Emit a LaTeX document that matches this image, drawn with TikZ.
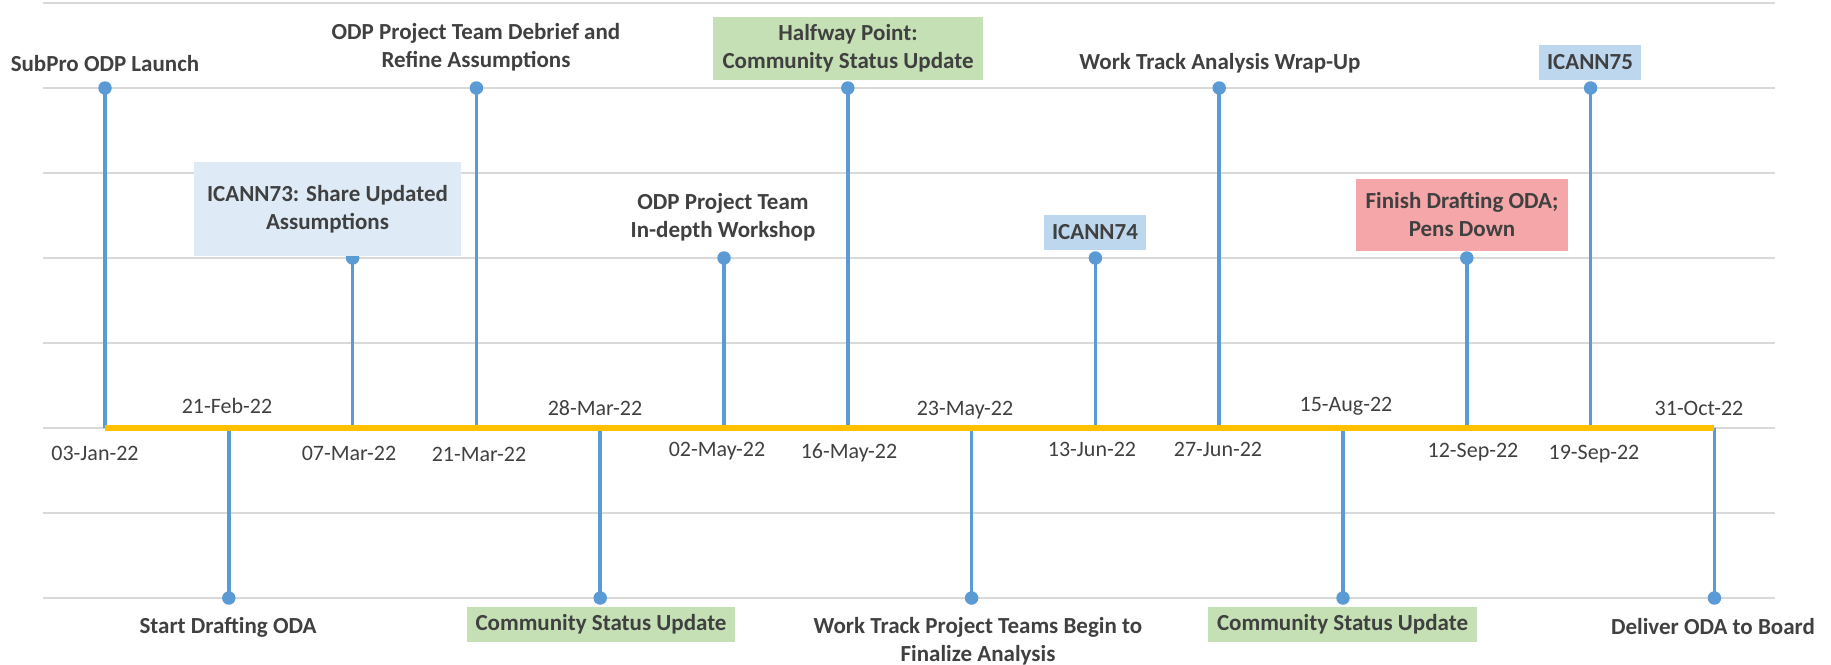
\documentclass[tikz,border=0pt]{standalone}
\usepackage{fontspec}
\setmainfont{Carlito}
\definecolor{gridc}{HTML}{D9D9D9}
\definecolor{stemc}{HTML}{5B9BD5}
\definecolor{axisc}{HTML}{FFC000}
\definecolor{txtc}{HTML}{404040}
\definecolor{lightblue}{HTML}{DEEBF7}
\definecolor{midblue}{HTML}{BDD7EE}
\definecolor{lightgreen}{HTML}{C5E0B4}
\definecolor{pinkc}{HTML}{F4A6A8}
\begin{document}
\begin{tikzpicture}[x=1pt,y=-1pt,
  gridline/.style={draw=gridc,line width=2pt},
  stem/.style={draw=stemc,line width=3.5pt},
  dot/.style={circle,fill=stemc,inner sep=0pt,minimum size=13.5pt},
  lbl/.style={text=txtc,font=\fontsize{23}{28}\selectfont\bfseries,align=center,inner sep=0pt},
  datelbl/.style={text=txtc,font=\fontsize{22}{26}\selectfont,inner sep=0pt},
  evbox/.style={lbl,minimum height=35pt}
]
\useasboundingbox (0,0) rectangle (1831,664);
% grid
\foreach \gy in {3,88,173,258,343,428,513,598}
  \draw[gridline] (43,\gy) -- (1775,\gy);
% axis points
\foreach \i in {0,...,13}
  \coordinate (t\i) at ({105+123.8*\i},428);
% dots
\node[dot] (d0) at (t0 |- 0,88) {};
\node[dot] (d1) at (t1 |- 0,598) {};
\node[dot] (d2) at (t2 |- 0,258) {};
\node[dot] (d3) at (t3 |- 0,88) {};
\node[dot] (d4) at (t4 |- 0,598) {};
\node[dot] (d5) at (t5 |- 0,258) {};
\node[dot] (d6) at (t6 |- 0,88) {};
\node[dot] (d7) at (t7 |- 0,598) {};
\node[dot] (d8) at (t8 |- 0,258) {};
\node[dot] (d9) at (t9 |- 0,88) {};
\node[dot] (d10) at (t10 |- 0,598) {};
\node[dot] (d11) at (t11 |- 0,258) {};
\node[dot] (d12) at (t12 |- 0,88) {};
\node[dot] (d13) at (t13 |- 0,598) {};
% stems
\foreach \i in {0,...,13}
  \draw[stem] (t\i) -- (d\i.center);
% axis
\draw[draw=axisc,line width=6pt] (t0) -- (t13);
% dates
\node[datelbl] (x0) at (95,453) {03-Jan-22};
\node[datelbl] (x1) at (227,406) {21-Feb-22};
\node[datelbl] (x2) at (349,453) {07-Mar-22};
\node[datelbl] (x3) at (479,454) {21-Mar-22};
\node[datelbl] (x4) at (595,408) {28-Mar-22};
\node[datelbl] (x5) at (717,451) {02-May-22};
\node[datelbl] (x6) at (849,453) {16-May-22};
\node[datelbl] (x7) at (965,410) {23-May-22};
\node[datelbl] (x8) at (1092,449) {13-Jun-22};
\node[datelbl] (x9) at (1218,449) {27-Jun-22};
\node[datelbl] (x10) at (1346,406) {15-Aug-22};
\node[datelbl] (x11) at (1473,452) {12-Sep-22};
\node[datelbl] (x12) at (1594,454) {19-Sep-22};
\node[datelbl] (x13) at (1699,408) {31-Oct-22};
% event labels
\node[lbl] (e0) at (105,64) {SubPro ODP Launch};
\node[lbl] (e1) at (228,627) {Start Drafting ODA};
\node[evbox,fill=lightblue,minimum width=267pt,minimum height=94pt] (e2) at (327.5,209) {ICANN73: Share Updated\\Assumptions};
\node[lbl] (e3) at (476,47) {ODP Project Team Debrief and\\Refine Assumptions};
\node[evbox,fill=lightgreen,minimum width=268pt] (e4) at (601,624.5) {Community Status Update};
\node[lbl] (e5) at (723,217) {ODP Project Team\\In-depth Workshop};
\node[evbox,fill=lightgreen,minimum width=270pt,minimum height=63pt] (e6) at (848,48.5) {Halfway Point:\\Community Status Update};
\node[lbl] (e7) at (978,641) {Work Track Project Teams Begin to\\Finalize Analysis};
\node[evbox,fill=midblue,minimum width=102pt] (e8) at (1095,232.5) {ICANN74};
\node[lbl] (e9) at (1220,63) {Work Track Analysis Wrap-Up};
\node[evbox,fill=lightgreen,minimum width=269pt] (e10) at (1342.5,624.5) {Community Status Update};
\node[evbox,fill=pinkc,minimum width=212pt,minimum height=72pt] (e11) at (1462,215) {Finish Drafting ODA;\\Pens Down};
\node[evbox,fill=midblue,minimum width=102pt] (e12) at (1590,62.5) {ICANN75};
\node[lbl] (e13) at (1713,627) {Deliver ODA to Board};
\end{tikzpicture}
\end{document}
